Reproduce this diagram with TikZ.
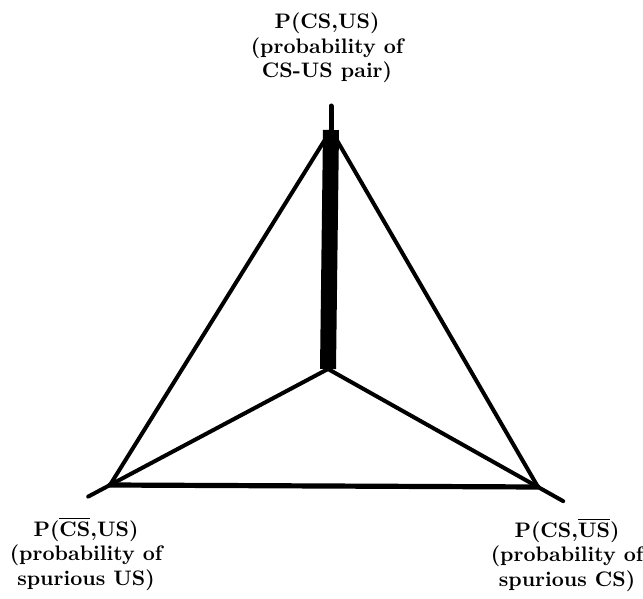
\documentclass[tikz,border=0pt]{standalone}
\usepackage{amsmath}
\usepackage{tikz}
\usetikzlibrary{calc}

\begin{document}
\begin{tikzpicture}[x=0.5pt, y=-0.5pt, line cap=round, line join=round]
\useasboundingbox (0,0) rectangle (643,599);

\tikzset{
    side/.style={line width=2pt},
    vlabel/.style={font=\fontsize{10.5}{12.3}\selectfont\bfseries, align=center, inner sep=0pt},
}

% Corners of the triangle and the inner point
\coordinate (apex) at (331,130);
\coordinate (tip) at (331,106);
\coordinate (lv) at (110,485);
\coordinate (rv) at (538,487);
\coordinate (mid) at (328,369);

% Triangle
\draw[side] (apex) -- (lv);
\draw[side] (apex) -- (rv);
\draw[line width=2.6pt] (lv) -- (rv);

% Spokes from the inner point, running past the corners
\draw[side] (mid) -- ($(mid)!1.1!(lv)$);
\draw[side] (mid) -- ($(mid)!1.12!(rv)$);

% Thick bar up to the top corner
\draw[line width=8pt, line cap=butt] (mid) -- (apex);
\draw[line width=2.5pt] (apex) -- (tip);

% Corner labels
\node[vlabel] (top) at (327,48) {P(CS,US)\\(probability of\\CS-US pair)};
\node[vlabel] (left) at (86,554) {P($\overline{\mbox{CS}}$,US)\\(probability of\\spurious US)};
\node[vlabel] (right) at (567,555) {P(CS,$\overline{\mbox{US}}$)\\(probability of\\spurious CS)};

\end{tikzpicture}
\end{document}
